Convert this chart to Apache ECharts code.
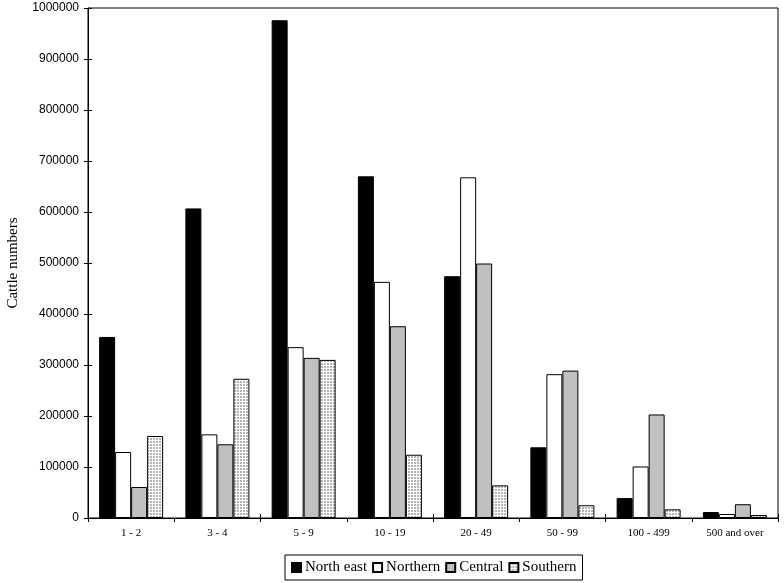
<!DOCTYPE html>
<html><head><meta charset="utf-8">
<script src="https://cdn.jsdelivr.net/npm/echarts@6/dist/echarts.min.js"></script>
<style>html,body{margin:0;padding:0;background:#fff}#c{width:784px;height:583px}</style>
</head><body><div id="c"></div>
<script>
var categories = ['1 - 2','3 - 4','5 - 9','10 - 19','20 - 49','50 - 99','100 - 499','500 and over'];
var northEast = [355000, 607000, 976000, 670000, 474000, 138600, 39000, 11700];
var northern  = [129400, 164000, 335000, 463000, 668000, 282000, 101000, 7800];
var central   = [60800, 144500, 314000, 376000, 499000, 289000, 203000, 27000];
var southern  = [160800, 273000, 310000, 124000, 64000, 25000, 17000, 5900];
var yTicks = [0,100000,200000,300000,400000,500000,600000,700000,800000,900000,1000000];

function makePattern(){
  var c = document.createElement('canvas'); c.width = 3; c.height = 3;
  var g = c.getContext('2d');
  g.fillStyle = '#ffffff'; g.fillRect(0,0,3,3);
  g.fillStyle = '#b4b4b4'; g.fillRect(0,0,2,2);
  return c;
}
var pat = {image: makePattern(), repeat: 'repeat'};

var chart = echarts.init(document.getElementById('c'), null, {renderer:'canvas'});
var serif = '"Liberation Serif","Times New Roman",serif';
var sans = '"Liberation Sans",Arial,sans-serif';
function bar(name, data, color){
  return {name:name, type:'bar', data:data, barWidth:16, barGap:'0%',
    itemStyle:{color:color, borderColor:'#000', borderWidth:1}, emphasis:{disabled:true}, animation:false};
}
chart.setOption({
  animation:false,
  backgroundColor:'#fff',
  grid:{left:88, right:6, top:8, bottom:65, show:true, borderColor:'#000', borderWidth:1,
    containLabel:false, outerBoundsMode:'none'},
  legend:{left:285, top:555, padding:[5,6,5,6], itemGap:5, itemWidth:9, itemHeight:9,
    borderColor:'#000', borderWidth:1, icon:'rect',
    textStyle:{fontFamily:serif, fontSize:15, color:'#000', padding:[1,0,0,-1]},
    data:['North east','Northern','Central','Southern']},
  xAxis:[{type:'category', data:categories, boundaryGap:true,
    axisLine:{lineStyle:{color:'#000'}},
    axisTick:{show:true, alignWithLabel:false, length:4, lineStyle:{color:'#000'}},
    axisLabel:{fontFamily:serif, fontSize:11, color:'#000', margin:10, interval:0}},
   {type:'category', data:categories, position:'bottom', boundaryGap:true,
    axisLine:{show:false}, axisTick:{show:true, inside:true, length:4, lineStyle:{color:'#000'}},
    axisLabel:{show:false}}],
  yAxis:[{type:'value', min:0, max:1000000, interval:100000,
    name:'Cattle numbers', nameLocation:'middle', nameGap:67, nameRotate:90,
    nameTextStyle:{fontFamily:serif, fontSize:15, color:'#000'},
    axisLine:{show:true, lineStyle:{color:'#000'}},
    axisTick:{show:true, length:4, lineStyle:{color:'#000'}},
    splitLine:{show:false},
    axisLabel:{fontFamily:sans, fontSize:12, color:'#000', margin:9,
      formatter:function(v){return yTicks.indexOf(v)>=0 ? String(v) : '';}}},
   {type:'value', min:0, max:1000000, interval:100000, position:'left',
    axisLine:{show:false}, axisTick:{show:true, inside:true, length:4, lineStyle:{color:'#000'}},
    splitLine:{show:false}, axisLabel:{show:false}}],
  series:[bar('North east', northEast, '#000000'), bar('Northern', northern, '#ffffff'),
          bar('Central', central, '#c0c0c0'), bar('Southern', southern, pat)]
});
</script></body></html>
